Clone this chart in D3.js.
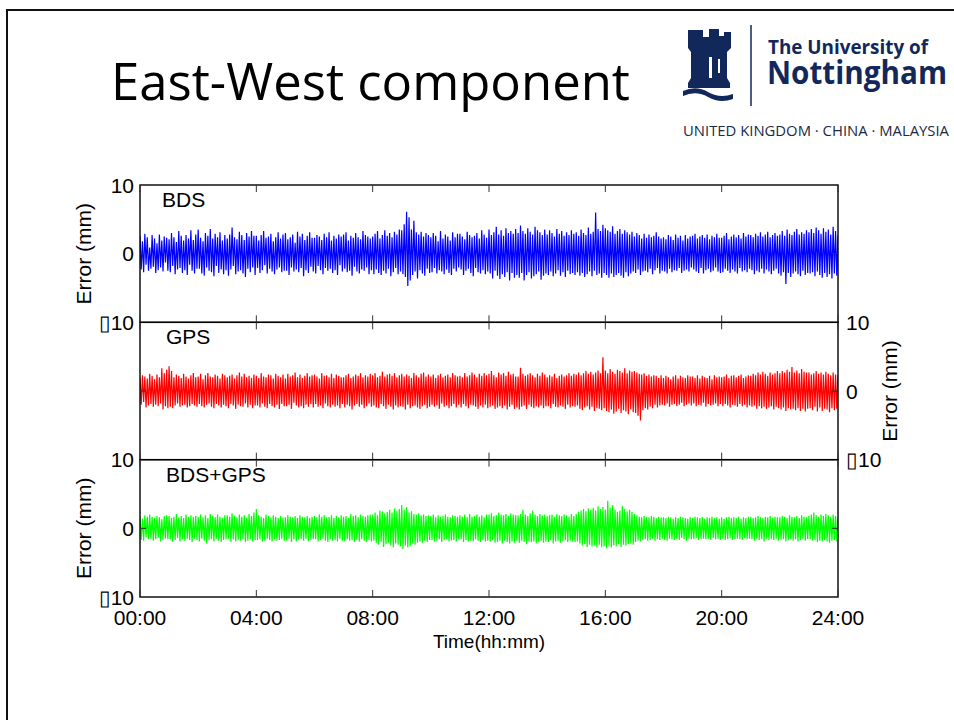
<!DOCTYPE html>
<html>
<head>
<meta charset="utf-8">
<script src="https://cdn.jsdelivr.net/npm/d3@7"></script>
<style>
  html, body { margin: 0; padding: 0; background: #fff; }
  svg { display: block; }
</style>
</head>
<body>
<svg id="slide" width="954" height="720"></svg>
<script>
// East-West error, mm, one value every 2.5 minutes from 00:00 to 24:00 (one row per hour)
var bdsError = [
  2.6,-2.3,1.8,-2.7,2.9,-1.6,2.4,-2.5,0.9,-2.2,2.7,-1.9,2.2,-2.8,1.5,-2.4,2.8,-2.0,1.9,-2.6,2.5,-1.3,2.3,-2.5,
  2.1,-2.7,3.0,-1.8,2.4,-3.0,1.7,-2.3,3.3,-2.1,2.6,-2.8,1.9,-2.4,2.7,-3.1,2.2,-1.6,3.4,-2.5,2.0,-2.9,2.8,-2.2,
  3.5,-2.2,2.3,-2.9,1.8,-3.2,3.0,-2.0,2.6,-2.5,3.6,-2.7,2.2,-3.3,2.9,-1.8,2.4,-2.8,3.1,-2.3,1.9,-3.0,2.7,-2.4,
  2.2,-3.2,2.8,-2.3,3.8,-1.8,2.4,-3.0,2.1,-2.6,3.2,-2.4,2.7,-2.9,2.0,-3.4,3.0,-2.2,2.5,-2.7,3.3,-2.0,2.6,-3.1,
  2.6,-2.1,1.9,-2.8,2.7,-2.4,3.3,-1.7,2.3,-2.9,2.5,-2.2,2.9,-2.6,1.8,-3.0,2.4,-2.3,3.1,-2.0,2.2,-2.7,2.8,-2.5,
  3.0,-2.5,2.1,-3.1,2.4,-2.0,2.8,-2.6,1.6,-2.3,3.2,-2.7,2.5,-2.1,2.9,-3.3,2.0,-2.4,2.6,-2.8,3.1,-1.9,2.3,-2.6,
  2.3,-2.9,2.7,-1.8,2.5,-2.4,2.0,-3.0,2.9,-2.1,2.4,-2.5,3.1,-2.2,1.9,-2.8,2.6,-2.4,2.2,-3.1,2.8,-1.7,2.5,-2.6,
  2.8,-2.2,3.1,-2.7,1.9,-2.5,2.6,-3.2,2.3,-1.9,3.0,-2.6,2.4,-2.9,2.1,-2.3,3.3,-2.5,2.7,-2.0,2.5,-3.0,2.2,-2.4,
  2.5,-3.0,2.9,-2.3,3.3,-2.8,2.2,-3.1,2.7,-2.5,3.4,-2.9,2.6,-2.2,3.0,-3.3,2.4,-2.7,3.2,-2.1,2.8,-3.0,3.5,-2.6,
  3.4,-3.0,4.3,-3.4,6.1,-4.7,5.3,-3.9,3.5,-3.1,4.8,-2.6,3.1,-3.6,2.8,-2.4,3.2,-2.9,2.5,-3.2,3.0,-2.2,2.7,-2.8,
  2.4,-2.7,3.0,-2.1,2.6,-2.9,1.8,-2.4,3.3,-2.6,2.2,-3.0,2.8,-2.3,2.5,-2.8,1.9,-3.1,3.1,-2.2,2.4,-2.6,2.9,-2.0,
  2.9,-2.3,2.5,-3.1,2.1,-2.5,3.2,-2.2,2.7,-2.8,2.4,-3.3,2.6,-2.1,3.0,-2.7,2.2,-2.9,3.4,-2.4,2.8,-3.0,2.3,-2.6,
  3.5,-2.9,2.7,-3.6,3.1,-2.5,3.9,-3.2,2.8,-3.7,3.4,-3.0,2.6,-3.4,3.7,-2.7,3.0,-3.9,3.3,-2.8,2.9,-3.5,3.6,-3.1,
  3.0,-3.5,4.1,-2.8,3.3,-3.9,2.9,-3.1,3.7,-2.7,3.2,-3.6,2.8,-3.3,3.9,-3.0,3.4,-2.6,3.1,-3.8,2.7,-3.2,3.5,-2.9,
  2.8,-3.1,3.4,-2.6,3.0,-3.3,2.5,-2.9,3.6,-2.4,2.9,-3.2,3.3,-2.7,2.6,-3.4,3.1,-2.5,2.7,-3.0,3.4,-2.8,2.9,-3.1,
  3.1,-2.7,2.6,-3.2,3.5,-2.8,3.0,-3.4,2.7,-3.0,3.8,-2.6,2.9,-3.3,3.2,-2.5,6.0,-3.1,3.6,-2.9,3.3,-3.5,4.2,-2.8,
  3.7,-3.1,3.4,-3.5,3.2,-2.9,4.0,-3.4,2.9,-3.1,3.3,-2.8,3.6,-3.2,2.9,-3.5,3.4,-2.7,3.1,-3.3,2.8,-2.9,3.2,-2.6,
  2.5,-2.8,3.0,-2.3,2.7,-3.1,2.2,-2.6,2.9,-2.5,2.3,-2.7,2.8,-2.2,2.4,-3.0,2.6,-2.4,3.1,-2.1,2.5,-2.9,2.2,-2.5,
  2.4,-2.6,2.1,-2.9,2.7,-2.2,2.5,-2.7,2.0,-2.4,2.8,-2.5,2.3,-2.1,2.6,-2.8,1.9,-2.5,2.7,-2.3,2.2,-2.6,2.5,-2.0,
  2.6,-2.3,2.9,-2.6,2.2,-2.8,2.5,-2.1,2.7,-2.9,2.3,-2.4,2.8,-2.2,2.1,-2.7,2.6,-2.5,2.4,-2.0,2.9,-2.6,2.3,-2.8,
  2.3,-2.7,2.6,-2.2,3.0,-2.5,2.1,-2.8,2.5,-2.3,2.8,-2.6,2.4,-2.9,2.7,-2.1,2.2,-2.6,3.0,-2.4,2.5,-2.7,2.8,-2.2,
  2.7,-2.4,2.4,-3.0,2.9,-2.5,2.6,-2.7,3.1,-2.2,2.5,-2.9,2.8,-2.3,3.2,-2.6,2.4,-3.0,2.7,-2.5,3.0,-2.2,2.6,-2.9,
  2.8,-3.2,3.3,-2.7,2.6,-4.4,3.5,-2.8,2.9,-3.4,2.7,-2.9,3.2,-2.6,3.6,-3.0,2.8,-3.3,3.1,-2.5,2.9,-3.1,3.4,-2.8,
  3.1,-2.9,3.6,-2.7,3.0,-3.3,3.8,-2.6,3.4,-3.1,2.9,-3.5,3.7,-2.8,3.2,-3.4,3.5,-3.0,2.8,-3.6,3.9,-2.9,3.3,-3.2,
  2.7
];
var gpsError = [
  1.9,-2.0,2.3,-1.6,2.1,-2.4,1.8,-2.1,2.5,-1.9,2.2,-2.3,1.7,-2.0,2.4,-2.2,2.0,-1.8,3.3,-2.7,2.6,-2.2,3.1,-2.5,
  3.6,-2.3,2.9,-2.5,2.0,-2.1,2.4,-1.8,2.2,-2.3,1.9,-2.1,2.5,-2.0,2.1,-2.4,1.8,-2.2,2.3,-1.9,2.6,-2.1,2.0,-2.3,
  2.1,-1.9,2.5,-2.2,1.7,-2.4,2.3,-2.0,2.6,-1.8,2.1,-2.3,2.0,-2.5,2.4,-1.9,2.2,-2.1,1.8,-2.4,2.5,-2.0,2.3,-2.2,
  2.0,-2.5,2.2,-1.9,2.4,-2.1,1.8,-2.6,2.3,-2.0,2.7,-2.2,2.1,-2.3,2.5,-1.8,2.0,-2.4,2.2,-2.0,1.9,-2.5,2.4,-2.1,
  2.2,-2.1,1.9,-2.4,2.6,-1.8,2.1,-2.3,2.0,-2.5,2.4,-1.9,2.3,-2.2,1.8,-2.4,2.5,-2.0,2.2,-2.6,2.0,-1.9,2.4,-2.2,
  1.8,-2.2,2.5,-2.0,2.1,-2.6,2.3,-1.7,2.7,-2.1,2.0,-2.4,2.4,-2.2,1.9,-2.5,2.2,-2.0,2.6,-2.3,2.1,-1.9,2.3,-2.4,
  2.4,-1.9,2.1,-2.3,1.8,-2.1,2.6,-2.5,2.2,-1.8,2.3,-2.2,2.0,-2.4,2.5,-2.0,1.9,-2.3,2.4,-2.1,2.2,-2.5,2.0,-1.9,
  2.0,-2.4,2.3,-2.0,2.5,-2.2,1.9,-2.7,2.1,-2.1,2.4,-1.9,2.2,-2.3,2.6,-2.0,2.0,-2.5,2.3,-2.2,2.1,-1.8,2.5,-2.3,
  2.3,-2.1,2.6,-2.4,2.0,-2.5,2.2,-1.9,2.8,-2.2,2.1,-2.6,2.4,-2.0,2.5,-2.3,2.2,-2.7,2.6,-2.1,2.0,-2.4,2.3,-2.2,
  2.5,-2.3,2.1,-2.7,2.4,-2.0,2.2,-2.5,1.9,-2.2,2.6,-2.1,2.3,-2.4,2.0,-2.6,2.5,-2.2,2.7,-2.0,2.1,-2.5,2.4,-2.3,
  2.1,-2.0,2.4,-2.3,1.9,-2.1,2.3,-2.6,2.5,-1.8,2.0,-2.3,2.2,-2.1,2.4,-2.5,2.0,-2.2,2.6,-1.9,2.3,-2.4,2.1,-2.0,
  2.2,-2.4,2.0,-1.9,2.6,-2.2,2.1,-2.5,2.3,-2.0,2.7,-2.1,2.4,-2.3,2.0,-2.6,2.5,-2.1,2.2,-2.4,2.6,-2.0,2.3,-2.5,
  2.5,-2.3,2.9,-2.1,2.3,-2.6,2.0,-2.4,2.7,-2.2,2.4,-2.5,2.6,-2.1,2.2,-2.7,2.8,-2.3,2.4,-2.0,2.5,-2.6,2.1,-2.4,
  2.1,-2.7,3.4,-2.3,2.5,-2.1,2.2,-2.6,2.4,-2.0,2.6,-2.3,2.3,-2.5,2.0,-2.2,2.5,-2.4,2.2,-2.1,2.7,-2.5,2.4,-2.2,
  2.0,-2.2,2.3,-2.5,2.1,-1.9,2.5,-2.3,1.9,-2.4,2.2,-2.1,2.4,-2.3,2.1,-2.6,2.3,-2.0,2.6,-2.4,2.2,-2.2,2.5,-2.3,
  2.4,-2.1,2.7,-2.6,2.3,-2.8,2.6,-2.4,2.9,-2.2,2.5,-2.7,2.8,-2.3,2.4,-2.9,2.7,-2.5,3.0,-2.6,2.6,-2.8,4.9,-2.5,
  3.0,-2.9,2.6,-3.1,3.2,-2.7,2.8,-3.3,2.5,-3.0,3.1,-2.6,2.9,-3.2,2.7,-2.8,3.3,-3.0,2.6,-3.4,3.0,-2.7,2.8,-3.1,
  2.9,-3.2,2.7,-3.6,2.5,-4.3,2.4,-2.8,2.6,-2.5,2.2,-2.7,2.4,-2.3,2.1,-2.5,2.3,-2.0,2.2,-2.4,1.9,-2.1,2.3,-2.0,
  1.9,-2.1,2.2,-1.8,2.0,-2.3,1.7,-2.0,2.1,-1.9,2.3,-2.2,1.8,-2.0,2.2,-1.7,2.0,-2.2,1.9,-2.0,2.3,-1.8,2.1,-2.1,
  2.1,-1.8,1.9,-2.2,2.3,-2.0,1.8,-2.1,2.2,-1.7,2.0,-2.3,1.9,-1.9,2.2,-2.1,1.7,-2.0,2.3,-1.8,2.0,-2.2,2.1,-1.9,
  2.0,-2.2,2.1,-1.9,2.4,-2.1,1.9,-2.4,2.2,-2.0,2.3,-2.1,2.0,-2.3,2.2,-1.9,2.4,-2.2,1.9,-2.0,2.1,-2.4,2.3,-2.1,
  2.2,-2.3,2.5,-2.1,2.3,-2.6,2.7,-2.2,2.4,-2.5,2.8,-2.3,2.5,-2.6,2.2,-2.4,2.7,-2.2,2.4,-2.7,2.6,-2.3,2.9,-2.5,
  2.6,-2.7,2.9,-2.4,2.7,-2.9,3.1,-2.5,2.8,-2.7,3.5,-2.6,2.7,-2.8,3.0,-2.5,2.6,-2.9,3.2,-2.6,2.8,-3.0,2.7,-2.6,
  2.7,-2.5,2.4,-2.8,2.6,-2.3,2.9,-3.0,2.5,-2.4,2.7,-2.9,2.4,-2.6,2.8,-2.7,2.5,-3.1,2.3,-2.5,2.7,-2.8,2.4,-2.6,
  2.3
];
var comboError = [
  1.6,-1.7,1.4,-1.8,1.9,-1.3,1.7,-1.6,2.0,-1.5,1.7,-1.8,1.5,-1.6,1.8,-1.4,1.6,-1.9,1.3,-1.7,1.8,-1.5,1.9,-1.6,
  1.8,-1.6,1.5,-2.0,1.7,-1.7,2.1,-1.4,1.6,-1.9,1.8,-1.6,1.5,-1.8,2.0,-1.5,1.7,-1.7,1.9,-2.0,1.6,-1.5,1.8,-1.7,
  1.7,-1.9,2.0,-1.5,1.6,-1.8,1.9,-2.2,1.5,-1.7,2.1,-1.6,1.8,-1.9,1.6,-1.5,2.0,-1.8,1.7,-2.0,1.5,-1.7,1.9,-1.6,
  1.9,-1.5,1.7,-2.0,2.2,-1.6,1.8,-1.9,1.6,-1.7,2.0,-1.8,1.7,-1.6,1.9,-2.0,1.5,-1.8,2.1,-1.6,1.8,-1.9,2.3,-1.7,
  2.8,-1.7,1.9,-1.6,1.7,-1.9,1.5,-1.8,2.0,-1.5,1.8,-1.7,1.6,-1.9,1.9,-1.6,1.7,-1.8,1.5,-1.7,1.8,-1.5,1.6,-1.8,
  1.6,-1.8,1.9,-1.5,1.7,-2.0,1.6,-1.6,1.8,-1.9,1.5,-1.7,1.9,-1.6,1.7,-1.8,1.6,-1.5,1.8,-1.9,1.5,-1.7,1.7,-1.6,
  1.8,-1.6,1.6,-1.9,2.0,-1.7,1.7,-1.5,1.9,-1.8,1.6,-2.0,1.7,-1.6,1.9,-1.8,1.5,-1.7,1.8,-1.9,1.6,-1.5,1.9,-1.8,
  1.7,-1.9,1.8,-1.6,1.5,-1.8,2.1,-1.7,1.8,-2.0,1.9,-1.7,1.6,-1.9,2.0,-1.6,1.8,-1.8,1.7,-2.0,1.9,-1.7,2.0,-1.9,
  2.0,-1.8,2.3,-2.1,1.9,-2.4,2.6,-2.0,2.5,-2.7,2.2,-2.3,2.4,-2.1,2.7,-2.5,2.3,-2.8,2.9,-2.2,2.6,-2.4,2.8,-2.6,
  3.4,-3.0,2.7,-2.5,3.1,-2.8,2.3,-2.6,2.5,-2.2,2.1,-2.4,2.0,-2.1,2.2,-1.9,1.9,-2.1,2.0,-1.8,1.8,-2.0,1.9,-1.7,
  1.8,-1.7,2.0,-1.9,1.6,-1.8,1.9,-1.6,1.7,-2.0,1.8,-1.7,2.0,-1.6,1.7,-1.9,1.6,-1.8,1.9,-1.7,1.8,-1.9,1.7,-1.6,
  1.9,-1.6,1.7,-2.0,2.0,-1.7,1.6,-1.9,2.1,-1.8,1.7,-1.9,1.8,-1.6,2.0,-1.8,1.7,-2.0,1.9,-1.7,1.6,-1.9,2.0,-1.8,
  2.0,-1.9,2.2,-1.7,1.8,-2.1,1.9,-2.0,2.3,-1.8,2.0,-2.2,1.9,-1.8,2.1,-2.0,1.8,-2.2,2.2,-1.9,2.0,-2.1,1.9,-1.8,
  1.9,-2.1,2.1,-1.8,2.7,-2.0,2.0,-2.3,1.8,-1.9,2.2,-2.0,2.6,-1.9,2.0,-2.2,1.8,-2.0,2.1,-1.8,1.9,-2.1,2.0,-1.9,
  1.8,-2.0,1.9,-1.7,2.0,-2.2,1.7,-1.9,2.1,-1.8,1.9,-2.1,1.8,-1.9,2.0,-1.7,1.9,-2.0,1.7,-1.8,2.1,-1.9,1.8,-2.0,
  2.1,-1.9,2.4,-2.2,2.6,-2.5,2.8,-2.3,2.5,-2.7,2.9,-2.4,2.7,-2.6,3.0,-2.5,2.6,-2.8,3.2,-2.4,2.8,-2.7,3.1,-2.6,
  2.7,-2.9,4.0,-2.6,3.0,-2.8,3.4,-2.5,2.7,-2.6,2.4,-2.3,2.6,-2.7,3.3,-2.4,2.8,-2.5,2.5,-2.3,2.7,-2.2,2.4,-2.4,
  2.1,-2.0,1.9,-1.8,1.7,-1.9,1.6,-1.7,1.8,-1.6,1.7,-1.8,1.6,-1.7,1.8,-1.5,1.7,-1.8,1.5,-1.6,1.7,-1.7,1.6,-1.5,
  1.6,-1.7,1.5,-1.8,1.7,-1.5,1.6,-1.6,1.4,-1.7,1.6,-1.5,1.5,-1.7,1.7,-1.4,1.6,-1.6,1.5,-1.8,1.4,-1.5,1.6,-1.6,
  1.5,-1.6,1.7,-1.4,1.6,-1.7,1.5,-1.6,1.7,-1.5,1.4,-1.6,1.6,-1.5,1.5,-1.7,1.7,-1.4,1.5,-1.6,1.6,-1.5,1.4,-1.7,
  1.6,-1.5,1.4,-1.7,1.6,-1.6,1.7,-1.4,1.5,-1.7,1.6,-1.6,1.5,-1.5,1.7,-1.6,1.4,-1.7,1.6,-1.4,1.5,-1.6,1.7,-1.5,
  1.7,-1.6,1.5,-1.8,1.6,-1.5,1.8,-1.7,1.6,-1.6,1.5,-1.9,1.7,-1.5,1.6,-1.7,1.8,-1.6,1.5,-1.7,1.7,-1.5,1.6,-1.8,
  1.6,-1.7,1.8,-1.6,1.7,-1.9,1.5,-1.7,1.9,-1.6,1.7,-1.8,1.6,-1.6,1.8,-1.9,1.5,-1.7,1.9,-1.5,1.7,-1.8,1.6,-1.6,
  1.8,-1.6,2.0,-1.8,2.3,-1.7,1.9,-2.0,1.7,-1.8,2.0,-1.9,1.8,-1.7,2.1,-1.9,1.9,-2.1,1.7,-1.8,2.0,-1.7,1.8,-1.9,
  1.6
];

var panelNames = ['BDS', 'GPS', 'BDS+GPS'];
var hourTicks = [0, 4, 8, 12, 16, 20, 24];
var hourLabels = ['00:00', '04:00', '08:00', '12:00', '16:00', '20:00', '24:00'];
var errorTicks = [10, 0, -10];
var errorLabels = ['10', '0', '\u25AF10'];
var samplesPerHour = 24;

(function() {
  var navy = '#13285a',
      plotFont = 'Liberation Sans, Arial, sans-serif',
      lineColors = ['#0000ff', '#ff0000', '#00ff00'];

  var svg = d3.select('#slide');

  // slide frame
  svg.append('path')
    .attr('d', 'M7,720 L7,10 L954,10')
    .attr('fill', 'none')
    .attr('stroke', '#111')
    .attr('stroke-width', 2);

  svg.append('text')
    .attr('x', 111)
    .attr('y', 100)
    .attr('font-family', 'Open Sans, sans-serif')
    .attr('font-size', 52)
    .attr('textLength', 519)
    .attr('lengthAdjust', 'spacingAndGlyphs')
    .attr('fill', '#000')
    .text('East-West component');

  // university logo
  var logo = svg.append('g');
  logo.append('path')
    .attr('d', 'M688,30 L703,30 L703,37 L709,37 L709,29 L719,29 L719,36 L724,36 L724,32 L731,32 ' +
      'L731,48 L727,52 L727,78 L730,83 L730,88 L688,88 L688,83 L691,78 L691,52 L688,48 Z')
    .attr('fill', navy);
  logo.append('rect').attr('x', 709).attr('y', 57).attr('width', 3).attr('height', 21).attr('fill', '#fff');
  logo.append('rect').attr('x', 718).attr('y', 59).attr('width', 2).attr('height', 14).attr('fill', '#fff');
  logo.append('path')
    .attr('d', 'M683,91 Q696,85 708,92 Q720,99 733,94 L733,99 Q720,104 708,97 Q696,90 683,96 Z')
    .attr('fill', navy);
  logo.append('line')
    .attr('x1', 751).attr('y1', 25).attr('x2', 751).attr('y2', 106)
    .attr('stroke', navy).attr('stroke-width', 1.5);
  logo.append('text')
    .attr('x', 768).attr('y', 54)
    .attr('font-family', 'Open Sans, sans-serif').attr('font-weight', 700)
    .attr('font-size', 20).attr('textLength', 160).attr('lengthAdjust', 'spacingAndGlyphs')
    .attr('fill', navy).text('The University of');
  logo.append('text')
    .attr('x', 767).attr('y', 84)
    .attr('font-family', 'Open Sans, sans-serif').attr('font-weight', 700)
    .attr('font-size', 33).attr('textLength', 180).attr('lengthAdjust', 'spacingAndGlyphs')
    .attr('fill', navy).text('Nottingham');
  logo.append('text')
    .attr('x', 683).attr('y', 136)
    .attr('font-family', 'Open Sans, sans-serif')
    .attr('font-size', 14).attr('textLength', 266).attr('lengthAdjust', 'spacingAndGlyphs')
    .attr('fill', '#1d2a45').text('UNITED KINGDOM \u00B7 CHINA \u00B7 MALAYSIA');

  // plots
  var plotLeft = 140, plotRight = 838, plotTop = 185, plotBottom = 597,
      panelH = (plotBottom - plotTop) / 3;

  var x = d3.scaleLinear().domain([0, 24]).range([plotLeft, plotRight]);

  function drawPanel(i, values) {
    var y0 = plotTop + i * panelH,
        y = d3.scaleLinear().domain([-10, 10]).range([y0 + panelH, y0]),
        g = svg.append('g'),
        labelRight = (i === 1);

    svg.append('clipPath').attr('id', 'clip' + i)
      .append('rect')
      .attr('x', plotLeft).attr('y', y0)
      .attr('width', plotRight - plotLeft).attr('height', panelH);

    var line = d3.line()
      .x(function(d, j) { return x(j / samplesPerHour); })
      .y(function(d) { return y(d); });

    g.append('path')
      .datum(values)
      .attr('clip-path', 'url(#clip' + i + ')')
      .attr('d', line)
      .attr('fill', 'none')
      .attr('stroke', lineColors[i])
      .attr('stroke-width', 1.2)
      .attr('stroke-linejoin', 'bevel');

    g.append('rect')
      .attr('x', plotLeft).attr('y', y0)
      .attr('width', plotRight - plotLeft).attr('height', panelH)
      .attr('fill', 'none')
      .attr('stroke', '#000')
      .attr('stroke-width', 1.4);

    // x ticks on top and bottom, pointing in
    hourTicks.forEach(function(h) {
      g.append('line')
        .attr('x1', x(h)).attr('x2', x(h))
        .attr('y1', y0).attr('y2', y0 + 7)
        .attr('stroke', '#333');
      g.append('line')
        .attr('x1', x(h)).attr('x2', x(h))
        .attr('y1', y0 + panelH).attr('y2', y0 + panelH - 7)
        .attr('stroke', '#333');
    });
    // zero ticks
    g.append('line').attr('x1', plotLeft).attr('x2', plotLeft + 6)
      .attr('y1', y(0)).attr('y2', y(0)).attr('stroke', '#333');
    g.append('line').attr('x1', plotRight).attr('x2', plotRight - 6)
      .attr('y1', y(0)).attr('y2', y(0)).attr('stroke', '#333');

    errorTicks.forEach(function(v, k) {
      g.append('text')
        .attr('x', labelRight ? plotRight + 8 : plotLeft - 6)
        .attr('y', y(v))
        .attr('dy', '0.36em')
        .attr('text-anchor', labelRight ? 'start' : 'end')
        .attr('font-family', plotFont)
        .attr('font-size', 21)
        .text(errorLabels[k]);
    });

    g.append('text')
      .attr('transform', 'translate(' + (labelRight ? 897 : 91) + ',' + y(0) + ') rotate(-90)')
      .attr('text-anchor', 'middle')
      .attr('font-family', plotFont)
      .attr('font-size', 21)
      .text('Error (mm)');

    g.append('text')
      .attr('x', i === 0 ? 162 : 166)
      .attr('y', y0 + 22)
      .attr('font-family', plotFont)
      .attr('font-size', 21)
      .text(panelNames[i]);
  }

  drawPanel(0, bdsError);
  drawPanel(1, gpsError);
  drawPanel(2, comboError);

  hourTicks.forEach(function(h, k) {
    svg.append('text')
      .attr('x', x(h))
      .attr('y', 625)
      .attr('text-anchor', 'middle')
      .attr('font-family', plotFont)
      .attr('font-size', 21)
      .text(hourLabels[k]);
  });

  svg.append('text')
    .attr('x', (plotLeft + plotRight) / 2)
    .attr('y', 648)
    .attr('text-anchor', 'middle')
    .attr('font-family', plotFont)
    .attr('font-size', 19)
    .text('Time(hh:mm)');
})();
</script>
</body>
</html>
